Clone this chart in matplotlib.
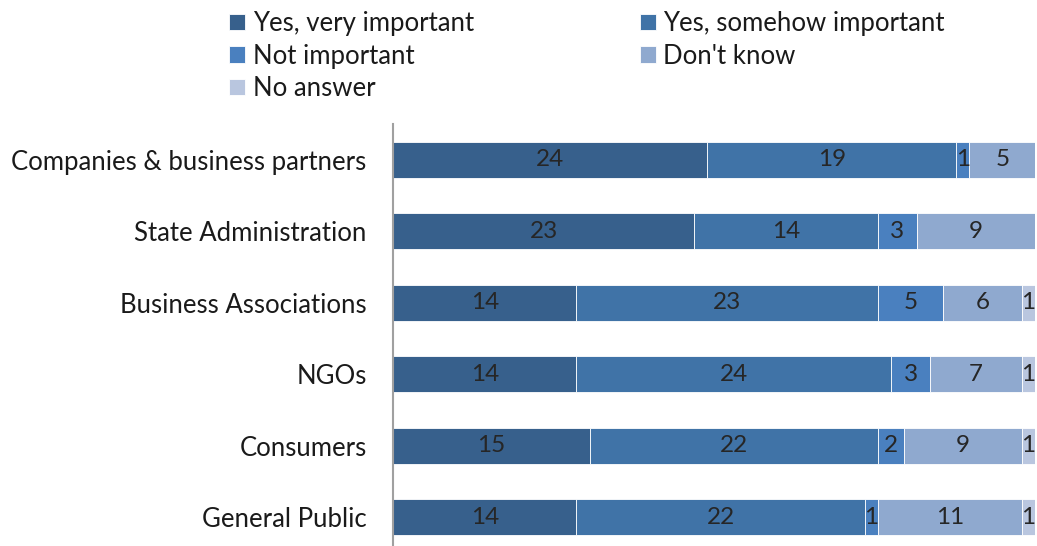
import matplotlib
matplotlib.use("Agg")
from matplotlib import pyplot as plt

plt.rcParams['font.family'] = ['Lato', 'DejaVu Sans']

categories = ["Companies & business partners", "State Administration",
              "Business Associations", "NGOs", "Consumers", "General Public"]
series_names = ["Yes, very important", "Yes, somehow important",
                "Not important", "Don't know", "No answer"]
very_important = [24, 23, 14, 14, 15, 14]
somehow_important = [19, 14, 23, 24, 22, 22]
not_important = [1, 3, 5, 3, 2, 1]
dont_know = [5, 9, 6, 7, 9, 11]
no_answer = [0, 0, 1, 1, 1, 1]
colors = ["#37608c", "#4073a7", "#4a80bf", "#8fa9cf", "#b9c6df"]

series = [very_important, somehow_important, not_important, dont_know, no_answer]

fig = plt.figure(figsize=(10.37, 5.46), dpi=100)
ax = fig.add_axes([393 / 1037, -7 / 546, 642 / 1037, 429 / 546])

ypos = list(range(len(categories)))
left = [0] * len(categories)
handles = []
for name, vals, col in zip(series_names, series, colors):
    bars = ax.barh(ypos, vals, left=left, height=0.5, color=col,
                   edgecolor="white", linewidth=0.6, label=name)
    labels = [str(v) if v else "" for v in vals]
    ax.bar_label(bars, labels=labels, label_type="center",
                 fontsize=17.5, color="#262626")
    handles.append(bars)
    left = [a + b for a, b in zip(left, vals)]

ax.set_xlim(0, 49)
ax.set_ylim(len(categories) - 0.5, -0.5)
ax.set_yticks(ypos)
ax.set_yticklabels(categories, fontsize=18.5, color="#1a1a1a")
ax.tick_params(axis="y", length=0, pad=19)
ax.set_xticks([])
for side in ["top", "right", "bottom"]:
    ax.spines[side].set_visible(False)
ax.spines["left"].set_color("#a0a0a0")
ax.spines["left"].set_linewidth(1.5)

# legend fills column-wise, so reorder to read row by row
order = [0, 2, 4, 1, 3]
fig.legend([handles[i] for i in order], [series_names[i] for i in order],
           ncol=2, loc="upper left", bbox_to_anchor=(206 / 1037, 1.022),
           frameon=False, fontsize=18.5, handlelength=0.62, handleheight=0.62,
           handletextpad=0.3, columnspacing=6.45, labelspacing=0.29,
           labelcolor="#1a1a1a")

fig.savefig("out.png", dpi=100)
